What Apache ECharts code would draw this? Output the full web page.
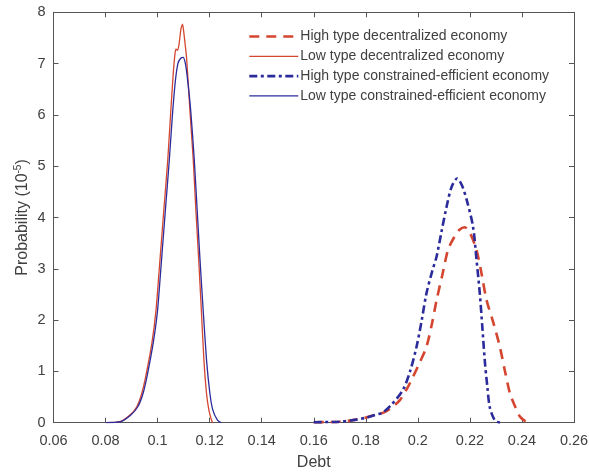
<!DOCTYPE html>
<html>
<head>
<meta charset="utf-8">
<script src="https://cdn.jsdelivr.net/npm/echarts@6/dist/echarts.min.js"></script>
<style>
  html, body { margin: 0; padding: 0; background: #fff; }
  #chart { width: 589px; height: 472px; }
</style>
</head>
<body>
<div id="chart"></div>
<script>
// Debt distributions (probability in units of 1e-5)

// Low type, decentralized economy
const lowDecX = [0.080, 0.0855, 0.0894, 0.0920, 0.0939, 0.0955, 0.0978, 0.0994, 0.1009, 0.1024, 0.1039, 0.1051, 0.1060, 0.1067, 0.1071, 0.1077, 0.1083, 0.1090, 0.1096, 0.1102, 0.1112, 0.1124, 0.1137, 0.1147, 0.1158, 0.1168, 0.1178, 0.1188, 0.1197, 0.1207, 0.1212];
const lowDecY = [0.00, 0.02, 0.15, 0.31, 0.57, 0.92, 1.55, 2.20, 3.17, 4.15, 5.12, 6.10, 6.80, 7.20, 7.28, 7.26, 7.40, 7.68, 7.77, 7.55, 7.07, 6.10, 5.12, 4.15, 3.17, 2.20, 1.22, 0.57, 0.25, 0.05, 0.00];

// Low type, constrained-efficient economy
const lowCeX = [0.080, 0.0858, 0.0897, 0.0924, 0.0944, 0.0960, 0.0983, 0.1000, 0.1015, 0.1030, 0.1045, 0.1057, 0.1068, 0.1078, 0.1088, 0.1098, 0.1106, 0.1114, 0.1127, 0.1141, 0.1152, 0.1163, 0.1175, 0.1188, 0.1201, 0.1212, 0.1230, 0.1245];
const lowCeY = [0.00, 0.02, 0.15, 0.31, 0.57, 0.92, 1.55, 2.20, 3.17, 4.15, 5.12, 6.00, 6.65, 7.00, 7.10, 7.12, 7.02, 6.74, 6.10, 5.12, 4.15, 3.17, 2.20, 1.22, 0.57, 0.25, 0.05, 0.00];

// High type, decentralized economy
const highDecX = [0.160, 0.170, 0.175, 0.180, 0.1835, 0.1870, 0.1900, 0.1931, 0.1960, 0.1982, 0.2005, 0.2033, 0.2055, 0.2072, 0.2095, 0.2116, 0.2140, 0.2160, 0.2180, 0.2200, 0.2225, 0.2245, 0.2264, 0.2290, 0.2315, 0.2335, 0.2354, 0.2375, 0.2392, 0.2410, 0.2430];
const highDecY = [0.01, 0.02, 0.05, 0.10, 0.15, 0.20, 0.30, 0.44, 0.68, 0.90, 1.15, 1.48, 1.95, 2.39, 2.90, 3.37, 3.62, 3.76, 3.81, 3.70, 3.37, 2.90, 2.39, 1.95, 1.48, 1.00, 0.57, 0.30, 0.12, 0.04, 0.00];

// High type, constrained-efficient economy
const highCeX = [0.160, 0.170, 0.175, 0.1803, 0.1835, 0.1866, 0.1900, 0.1943, 0.1970, 0.1995, 0.2015, 0.2033, 0.2055, 0.2072, 0.2090, 0.2110, 0.2130, 0.2151, 0.2170, 0.2190, 0.2212, 0.2225, 0.2238, 0.2248, 0.2257, 0.2267, 0.2276, 0.2290, 0.2302, 0.2328];
const highCeY = [0.01, 0.02, 0.05, 0.10, 0.15, 0.20, 0.36, 0.64, 1.00, 1.48, 2.00, 2.52, 2.95, 3.24, 3.70, 4.20, 4.60, 4.76, 4.62, 4.30, 3.82, 3.20, 2.52, 1.85, 1.22, 0.70, 0.31, 0.10, 0.02, 0.00];

// Axis ticks
const xTicks = [0.06, 0.08, 0.1, 0.12, 0.14, 0.16, 0.18, 0.2, 0.22, 0.24, 0.26];
const yTicks = [0, 1, 2, 3, 4, 5, 6, 7, 8];

const seriesNames = [
  'High type decentralized economy',
  'Low type decentralized economy',
  'High type constrained-efficient economy',
  'Low type constrained-efficient economy'
];

const RED = '#d4462f';
const BLUE = '#2b2b9b';
const TEXT = '#404040';
const AXIS = '#555555';
const FONT = '"Liberation Sans", Arial, Helvetica, sans-serif';

const zip = (xs, ys) => xs.map((x, i) => [x, ys[i]]);

const xStep = xTicks[1] - xTicks[0];
const yStep = yTicks[1] - yTicks[0];

const baseX = {
  type: 'value',
  min: xTicks[0],
  max: xTicks[xTicks.length - 1],
  interval: xStep,
  splitLine: { show: false },
  axisLine: { show: true, onZero: false, lineStyle: { color: AXIS, width: 1 } },
  axisTick: { show: true, inside: true, length: 5, lineStyle: { color: AXIS } }
};
const baseY = {
  type: 'value',
  min: yTicks[0],
  max: yTicks[yTicks.length - 1],
  interval: yStep,
  splitLine: { show: false },
  axisLine: { show: true, onZero: false, lineStyle: { color: AXIS, width: 1 } },
  axisTick: { show: true, inside: true, length: 5, lineStyle: { color: AXIS } }
};

// Line styles shared by the plotted curves and their legend keys
const styles = [
  { color: RED, width: 2.6, type: [10, 7] },
  { color: RED, width: 1.3, type: 'solid' },
  { color: BLUE, width: 2.6, type: [8, 3.5, 3, 3.5] },
  { color: BLUE, width: 1.3, type: 'solid' }
];
const curves = [
  zip(highDecX, highDecY),
  zip(lowDecX, lowDecY),
  zip(highCeX, highCeY),
  zip(lowCeX, lowCeY)
];

const chart = echarts.init(document.getElementById('chart'), null, { renderer: 'canvas' });

chart.setOption({
  animation: false,
  backgroundColor: '#ffffff',
  textStyle: { fontFamily: FONT, color: TEXT },
  grid: {
    left: 53.5, right: 15, top: 12.3, bottom: 49.3,
    containLabel: false,
    outerBoundsMode: 'none'
  },
  legend: {
    data: seriesNames.map((n, i) => ({
      name: n,
      lineStyle: { color: styles[i].color, width: styles[i].width, type: styles[i].type }
    })),
    orient: 'vertical',
    left: 248,
    top: 29.5,
    padding: 0,
    itemWidth: 49,
    itemHeight: 14,
    itemGap: 5.8,
    itemStyle: { opacity: 0 },
    textStyle: { fontFamily: FONT, fontSize: 14, color: TEXT, padding: [0, 0, 0, -3] },
    selectedMode: false
  },
  xAxis: [
    Object.assign({}, baseX, {
      position: 'bottom',
      name: 'Debt',
      nameLocation: 'middle',
      nameGap: 32,
      nameMoveOverlap: false,
      nameTextStyle: { fontFamily: FONT, fontSize: 16, color: TEXT },
      axisLabel: {
        fontFamily: FONT, fontSize: 14.5, color: TEXT, margin: 11,
        formatter: v => String(+v.toFixed(2))
      }
    }),
    Object.assign({}, baseX, { position: 'top', axisLabel: { show: false } })
  ],
  yAxis: [
    Object.assign({}, baseY, {
      position: 'left',
      name: '{t|Probability (10}{s|-5}{t|)}',
      nameLocation: 'middle',
      nameGap: 22,
      nameMoveOverlap: false,
      nameRotate: 90,
      nameTextStyle: {
        rich: {
          t: { fontFamily: FONT, fontSize: 16, color: TEXT },
          s: { fontFamily: FONT, fontSize: 10, color: TEXT, verticalAlign: 'top', padding: [0, 0, 8, 0] }
        }
      },
      axisLabel: { fontFamily: FONT, fontSize: 14.5, color: TEXT, margin: 8 }
    }),
    Object.assign({}, baseY, { position: 'right', axisLabel: { show: false } })
  ],
  series: seriesNames.map((n, i) => ({
    name: n,
    type: 'line',
    data: curves[i],
    smooth: i % 2 === 0 ? 0.3 : 0.2,
    symbol: 'none',
    z: i < 2 ? 3 : 4,
    lineStyle: styles[i],
    itemStyle: { color: styles[i].color }
  }))
});
</script>
</body>
</html>
